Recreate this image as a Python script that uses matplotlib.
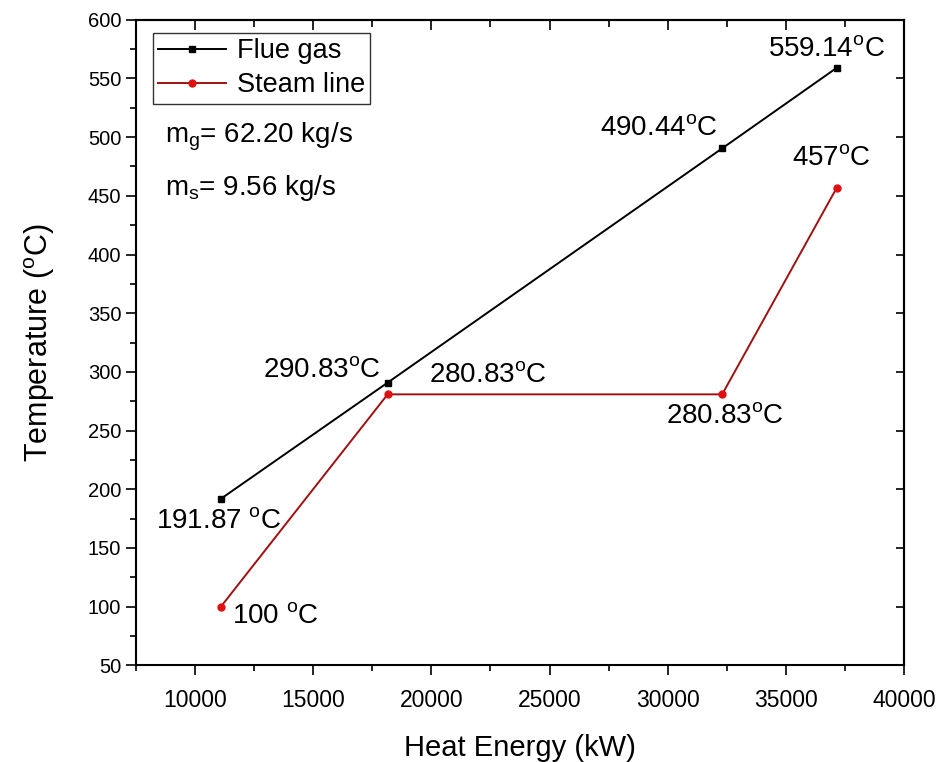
import matplotlib.pyplot as plt
from matplotlib.ticker import MultipleLocator

plt.rcParams['font.family'] = ['Liberation Sans', 'DejaVu Sans']
plt.rcParams['mathtext.fontset'] = 'custom'
plt.rcParams['mathtext.rm'] = 'Liberation Sans'
plt.rcParams['mathtext.it'] = 'Liberation Sans'

# data
flue_x = [11100, 18150, 32300, 37150]
flue_y = [191.87, 290.83, 490.44, 559.14]
steam_x = [11100, 18150, 32300, 37150]
steam_y = [100, 280.83, 280.83, 457]

# point labels: (text, x, y)
deg = r'$^{\mathrm{o}}$C'
labels = [
    ('559.14' + deg, 36720, 575),
    ('490.44' + deg, 29620, 508),
    ('457' + deg, 36900, 482),
    ('290.83' + deg, 15380, 302),
    ('280.83' + deg, 22380, 297),
    ('280.83' + deg, 32420, 262),
    (r'191.87 $^{\mathrm{o}}$C', 11000, 173),
    (r'100 $^{\mathrm{o}}$C', 13400, 92),
]

fig = plt.figure(figsize=(9.37, 7.62), dpi=100)
ax = fig.add_axes([0.145, 0.127, 0.82, 0.847])

ax.plot(flue_x, flue_y, color='black', marker='s', markersize=5,
        linewidth=1.4, label='Flue gas')
ax.plot(steam_x, steam_y, color='#a01010', marker='o', markersize=5,
        markerfacecolor='#e01010', markeredgecolor='#e01010',
        linewidth=1.4, label='Steam line')

for txt, x, y in labels:
    ax.text(x, y, txt, fontsize=20, ha='center', va='center')

ax.text(8750, 500, r'm$_{\mathrm{g}}$= 62.20 kg/s', fontsize=20, va='center')
ax.text(8750, 457, r'm$_{\mathrm{s}}$= 9.56 kg/s', fontsize=20, va='center')

ax.set_xlim(7500, 40000)
ax.set_ylim(50, 600)
ax.xaxis.set_major_locator(MultipleLocator(5000))
ax.xaxis.set_minor_locator(MultipleLocator(2500))
ax.yaxis.set_major_locator(MultipleLocator(50))
ax.yaxis.set_minor_locator(MultipleLocator(25))

ax.tick_params(axis='both', which='major', direction='out', length=7, width=1.2)
ax.tick_params(axis='both', which='minor', direction='out', length=4, width=1.2)
ax.tick_params(axis='x', labelsize=16.5, pad=10)
ax.tick_params(axis='y', labelsize=14.5)

# inward ticks on the top and right frame
top = ax.secondary_xaxis('top')
top.xaxis.set_major_locator(MultipleLocator(5000))
top.xaxis.set_minor_locator(MultipleLocator(2500))
top.tick_params(which='major', direction='in', length=7, width=1.2, labeltop=False)
top.tick_params(which='minor', direction='in', length=5, width=1.2)
right = ax.secondary_yaxis('right')
right.yaxis.set_major_locator(MultipleLocator(50))
right.tick_params(which='major', direction='in', length=6, width=1.2, labelright=False)
right.tick_params(which='minor', length=0)

for sp in list(ax.spines.values()) + [top.spines['top'], right.spines['right']]:
    sp.set_linewidth(1.5)

ax.set_xlabel('Heat Energy (kW)', fontsize=21, labelpad=16)
ax.set_ylabel(r'Temperature ($^{\mathrm{o}}$C)', fontsize=22, labelpad=22)

leg = ax.legend(loc='upper left', fontsize=19.5, frameon=True, fancybox=False,
                edgecolor='black', handlelength=2.5, borderpad=0.2,
                labelspacing=0.3, handletextpad=0.4, borderaxespad=0,
                bbox_to_anchor=(0.022, 0.98))
leg.get_frame().set_linewidth(1.0)

fig.savefig('out.png', dpi=100)
